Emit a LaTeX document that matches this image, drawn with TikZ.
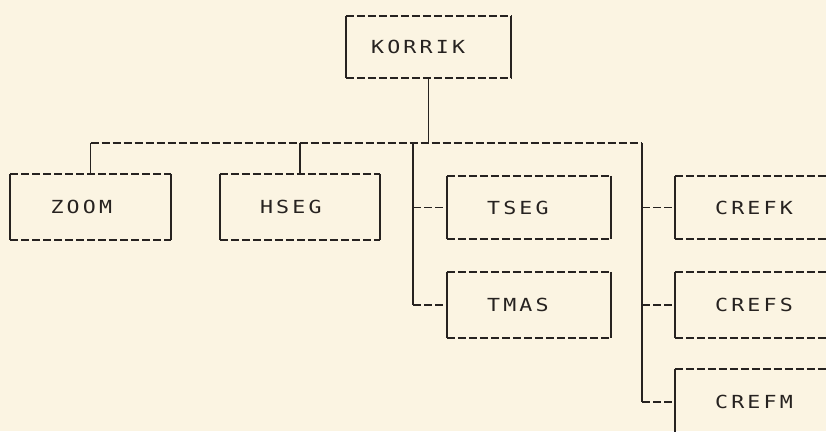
\documentclass[tikz,border=0pt]{standalone}
\usepackage{fontspec}
\newfontfamily\lpfont[LetterSpace=18,FakeStretch=1.2]{DejaVu Sans Mono}
\definecolor{paper}{RGB}{251,244,226}
\definecolor{ink}{RGB}{38,34,32}
\begin{document}
\begin{tikzpicture}[x=1pt,y=-1pt,
  hdash/.style={draw=ink, line width=1.6pt, dash pattern=on 8pt off 3pt},
  vsolid/.style={draw=ink, line width=1.7pt},
  lpbox/.style={rectangle, inner xsep=40pt, inner ysep=0pt, text width=84pt,
    minimum height=64pt, align=left, text=ink,
    font=\lpfont\fontsize{18}{20}\selectfont},
  narrow/.style={text width=80pt},
  top/.style={inner xsep=25pt, text width=115pt, minimum height=62pt}]
\useasboundingbox (0,0) rectangle (826,431);
\clip (0,0) rectangle (826,431);
\fill[paper] (0,0) rectangle (826,431);

\node[lpbox,top]    (korrik) at (428.5,47)  {KORRIK};
\node[lpbox,narrow,minimum height=66pt] (zoom) at (90.5,207) {ZOOM};
\node[lpbox,narrow,minimum height=66pt] (hseg) at (300,207)  {HSEG};
\node[lpbox,minimum height=63pt] (tseg)  at (529,207.5) {TSEG};
\node[lpbox,minimum height=66pt] (tmas)  at (529,305)   {TMAS};
\node[lpbox,minimum height=63pt] (crefk) at (757,207.5) {CREFK};
\node[lpbox,minimum height=66pt] (crefs) at (757,305)   {CREFS};
\node[lpbox,minimum height=66pt] (crefm) at (757,402)   {CREFM};

\foreach \n in {korrik,zoom,hseg,tseg,tmas,crefk,crefs,crefm}{
  \draw[hdash] (\n.north west) -- (\n.north east);
  \draw[hdash] (\n.south west) -- (\n.south east);
  \draw[vsolid] (\n.north west) -- (\n.south west);
  \draw[vsolid] (\n.north east) -- (\n.south east);
}

\coordinate (lt) at (413,143);
\coordinate (rt) at (642,143);

\draw[vsolid] (korrik.south) -- (korrik.south |- rt);
\draw[hdash] (zoom.north |- rt) -- (rt);
\draw[vsolid] (zoom.north |- rt) -- (zoom.north);
\draw[vsolid] (hseg.north |- rt) -- (hseg.north);

\draw[vsolid] (lt) -- (lt |- tmas.west);
\draw[hdash] (lt |- tseg.west) -- (tseg.west);
\draw[hdash] (lt |- tmas.west) -- (tmas.west);

\draw[vsolid] (rt) -- (rt |- crefm.west);
\draw[hdash] (rt |- crefk.west) -- (crefk.west);
\draw[hdash] (rt |- crefs.west) -- (crefs.west);
\draw[hdash] (rt |- crefm.west) -- (crefm.west);
\end{tikzpicture}
\end{document}
